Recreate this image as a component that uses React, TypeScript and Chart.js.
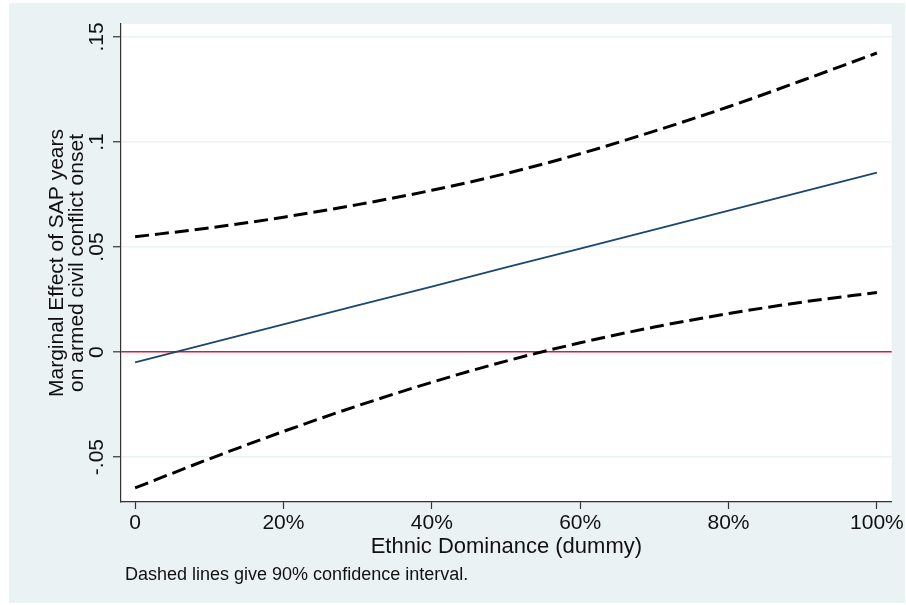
import React, { useEffect, useRef } from 'react';
import { Chart, registerables } from 'chart.js';

Chart.register(...registerables);

// ---- data ----
const xValues = [0, 0.1, 0.2, 0.3, 0.4, 0.5, 0.6, 0.7, 0.8, 0.9, 1.0];
const marginalEffect = [-0.0049, 0.0041, 0.0132, 0.0222, 0.0312, 0.0403, 0.0493, 0.0583, 0.0673, 0.0764, 0.0854];
const upperCI = [0.0549, 0.0591, 0.0642, 0.0702, 0.0770, 0.0850, 0.0944, 0.1052, 0.1168, 0.1294, 0.1424];
const lowerCI = [-0.0647, -0.0509, -0.0378, -0.0256, -0.0144, -0.0043, 0.0044, 0.0119, 0.0183, 0.0238, 0.0284];

const xTickValues = [0, 0.2, 0.4, 0.6, 0.8, 1.0];
const xTickLabels = ['0', '20%', '40%', '60%', '80%', '100%'];
const yTickValues = [-0.05, 0, 0.05, 0.1, 0.15];
const yTickLabels = ['-.05', '0', '.05', '.1', '.15'];

const yTitleLines = ['Marginal Effect of SAP years', 'on armed civil conflict onset'];
const xTitle = 'Ethnic Dominance (dummy)';
const noteText = 'Dashed lines give 90% confidence interval.';

const FONT = "'Liberation Sans', Arial, Helvetica, sans-serif";
const BG = '#EAF2F3';

const decorPlugin = {
  id: 'stataDecor',
  beforeDraw(chart: any) {
    const { ctx, chartArea, width, height } = chart;
    ctx.save();
    ctx.fillStyle = '#ffffff';
    ctx.fillRect(0, 0, width, height);
    ctx.fillStyle = BG;
    ctx.fillRect(9, 3, 896, 600);
    ctx.fillStyle = '#ffffff';
    ctx.fillRect(chartArea.left, chartArea.top, chartArea.right - chartArea.left, chartArea.bottom - chartArea.top);
    ctx.restore();
  },
  afterDraw(chart: any) {
    const { ctx, chartArea } = chart;
    ctx.save();
    ctx.fillStyle = '#111111';
    // y title (two rotated lines)
    const cy = (chartArea.top + chartArea.bottom) / 2;
    ctx.font = `21px ${FONT}`;
    ctx.textAlign = 'center';
    ctx.textBaseline = 'alphabetic';
    const baselines = [63, 83];
    yTitleLines.forEach((line, i) => {
      ctx.save();
      ctx.translate(baselines[i], cy);
      ctx.rotate(-Math.PI / 2);
      ctx.fillText(line, 0, 0);
      ctx.restore();
    });
    // x title
    const cx = (chartArea.left + chartArea.right) / 2;
    ctx.font = `22px ${FONT}`;
    ctx.fillText(xTitle, cx, 553);
    // note
    ctx.font = `18px ${FONT}`;
    ctx.textAlign = 'left';
    ctx.fillText(noteText, 125, 580);
    ctx.restore();
  },
};

export default function App() {
  const canvasRef = useRef<HTMLCanvasElement | null>(null);

  useEffect(() => {
    if (!canvasRef.current) return;
    Chart.defaults.font.family = FONT;
    const toPts = (ys: number[]) => xValues.map((x, i) => ({ x, y: ys[i] }));
    const chart = new Chart(canvasRef.current, {
      type: 'line',
      data: {
        datasets: [
          {
            data: toPts(marginalEffect),
            borderColor: '#1A476F',
            borderWidth: 1.8,
            pointRadius: 0,
            tension: 0,
            fill: false,
          },
          {
            data: toPts(upperCI),
            borderColor: '#000000',
            borderWidth: 3,
            borderDash: [14, 6],
            pointRadius: 0,
            cubicInterpolationMode: 'monotone',
            fill: false,
          },
          {
            data: toPts(lowerCI),
            borderColor: '#000000',
            borderWidth: 3,
            borderDash: [14, 6],
            pointRadius: 0,
            cubicInterpolationMode: 'monotone',
            fill: false,
          },
        ],
      },
      options: {
        responsive: false,
        animation: false,
        devicePixelRatio: 1,
        layout: { padding: { top: 24, right: 14, left: 0, bottom: 0 } },
        plugins: {
          legend: { display: false },
          tooltip: { enabled: false },
        },
        scales: {
          x: {
            type: 'linear',
            min: -0.019,
            max: 1.02,
            afterBuildTicks: (s: any) => {
              s.ticks = xTickValues.map((v) => ({ value: v }));
            },
            afterFit: (s: any) => {
              s.height = 103;
            },
            grid: {
              drawOnChartArea: false,
              drawTicks: true,
              tickLength: 7,
              tickColor: '#333333',
              tickWidth: 1.2,
            },
            border: { display: true, color: '#333333', width: 1.2 },
            ticks: {
              autoSkip: false,
              maxRotation: 0,
              minRotation: 0,
              padding: 2,
              color: '#111111',
              font: { size: 21, family: FONT },
              callback: (_v: any, i: number) => xTickLabels[i],
            },
          },
          y: {
            type: 'linear',
            min: -0.0714,
            max: 0.1562,
            afterBuildTicks: (s: any) => {
              s.ticks = yTickValues.map((v) => ({ value: v }));
            },
            afterFit: (s: any) => {
              s.width = 121;
            },
            grid: {
              drawOnChartArea: true,
              drawTicks: true,
              tickLength: 8,
              tickColor: '#333333',
              tickWidth: 1.2,
              color: (c: any) => (c.tick && Math.abs(c.tick.value) < 1e-9 ? '#E0163C' : BG),
              lineWidth: (c: any) => (c.tick && Math.abs(c.tick.value) < 1e-9 ? 1.6 : 1.5),
            },
            border: { display: true, color: '#333333', width: 1.2 },
            ticks: {
              autoSkip: false,
              minRotation: 90,
              maxRotation: 90,
              crossAlign: 'center',
              padding: -2,
              color: '#111111',
              font: { size: 21, family: FONT },
              callback: (_v: any, i: number) => yTickLabels[i],
            },
          },
        },
      } as any,
      plugins: [decorPlugin],
    });
    return () => chart.destroy();
  }, []);

  return (
    <div style={{ position: 'absolute', left: 0, top: 0, width: 906, height: 605, background: '#ffffff' }}>
      <canvas ref={canvasRef} width={906} height={605} style={{ display: 'block', width: 906, height: 605 }} />
    </div>
  );
}
